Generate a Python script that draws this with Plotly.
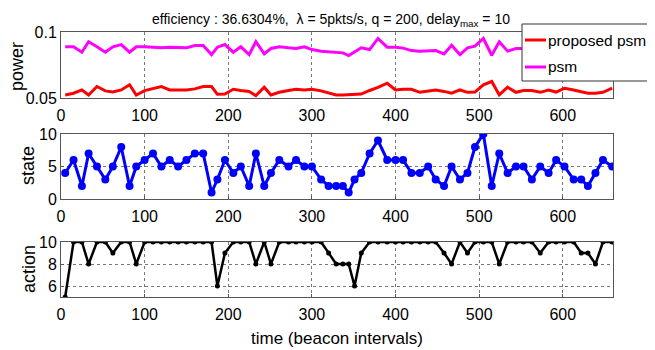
import plotly.graph_objects as go
from plotly.subplots import make_subplots

# ---- data ----
time = [5, 15, 25, 33, 43, 53, 62, 72, 82, 90,
        100, 110, 120, 130, 140, 150, 160, 170, 180,
        187, 196, 206, 215, 225, 233, 243, 251, 261, 272,
        281, 291, 300, 311, 320, 329, 337, 344, 351, 359,
        369, 379, 390, 400, 409, 419, 429, 439, 448, 458,
        467, 477, 486, 495, 505, 515, 524, 534, 544, 553,
        563, 573, 583, 592, 602, 613, 622, 630, 639, 648,
        659]

power_proposed = [0.0523, 0.0536, 0.0561, 0.0523, 0.0587, 0.0554, 0.0545, 0.0561, 0.0600, 0.0523,
                  0.0556, 0.0569, 0.0587, 0.0561, 0.0563, 0.0561, 0.0569, 0.0587, 0.0587,
                  0.0528, 0.0530, 0.0566, 0.0557, 0.0550, 0.0518, 0.0582, 0.0523, 0.0543, 0.0557,
                  0.0566, 0.0561, 0.0566, 0.0554, 0.0536, 0.0523, 0.0523, 0.0526, 0.0530, 0.0530,
                  0.0557, 0.0580, 0.0612, 0.0561, 0.0566, 0.0566, 0.0543, 0.0550, 0.0561, 0.0550,
                  0.0536, 0.0561, 0.0543, 0.0545, 0.0600, 0.0625, 0.0523, 0.0582, 0.0543, 0.0557,
                  0.0557, 0.0543, 0.0561, 0.0545, 0.0574, 0.0561, 0.0550, 0.0536, 0.0536, 0.0543,
                  0.0574]

power_psm = [0.0888, 0.0888, 0.0847, 0.0926, 0.0888, 0.0847, 0.0888, 0.0905, 0.0847, 0.0888,
             0.0888, 0.0885, 0.0880, 0.0885, 0.0885, 0.0880, 0.0898, 0.0898, 0.0829,
             0.0885, 0.0905, 0.0847, 0.0888, 0.0829, 0.0926, 0.0834, 0.0875, 0.0888, 0.0880,
             0.0875, 0.0888, 0.0867, 0.0855, 0.0850, 0.0842, 0.0842, 0.0821, 0.0850, 0.0880,
             0.0867, 0.0951, 0.0885, 0.0885, 0.0878, 0.0859, 0.0855, 0.0859, 0.0859, 0.0834,
             0.0900, 0.0829, 0.0880, 0.0893, 0.0951, 0.0824, 0.0926, 0.0855, 0.0875, 0.0875,
             0.0870, 0.0880, 0.0875, 0.0885, 0.0870, 0.0875, 0.0880, 0.0870, 0.0875, 0.0880,
             0.0875]

state = [4, 6, 2, 7, 5, 3, 5, 8, 2, 5,
         6, 7, 5, 6, 5, 6, 7, 7, 1,
         3, 6, 4, 5, 2, 7, 2, 4, 6, 5,
         6, 5, 5, 3, 2, 2, 2, 1, 3, 4,
         7, 9, 6, 6, 6, 4, 4, 5, 3, 2,
         5, 3, 4, 8, 10, 2, 7, 4, 5, 5,
         3, 5, 4, 6, 5, 3, 3, 2, 4, 6,
         5]

action = [5, 10, 10, 8, 10, 10, 9, 10, 10, 8,
          10, 10, 10, 10, 10, 10, 10, 10, 10,
          6, 9, 10, 10, 10, 8, 10, 8, 10, 10,
          10, 10, 10, 10, 9, 8, 8, 8, 6, 9,
          10, 10, 10, 10, 10, 10, 10, 10, 10, 9,
          8, 10, 9, 10, 10, 10, 8, 10, 10, 10,
          10, 9, 10, 10, 10, 10, 9, 9, 8, 10,
          10]

x_ticks = [0, 100, 200, 300, 400, 500, 600]
series_names = ["proposed psm", "psm"]
series_colors = ["#ff0000", "#ff00ff"]
y_titles = ["power", "state", "action"]
title_text = "efficiency : 36.6304%,  \u03bb = 5pkts/s, q = 200, delay<sub>max</sub> = 10"

FONT = "Liberation Sans, Arial, sans-serif"

# page body has an 8px margin: lay out in image pixels, then subtract the offset
OFF = 8
W, H = 655 - OFF, 350 - OFF
L, T, R, B = 61 - OFF, 32 - OFF, 613 - OFF, 297 - OFF   # plot area in figure pixels
PW, PH = R - L, B - T


def px_x(p):
    """image pixel x -> paper fraction"""
    return (p - OFF - L) / PW


def px_y(p):
    """image pixel y -> paper fraction"""
    return (B - (p - OFF)) / PH


fig = make_subplots(rows=3, cols=1)

fig.add_trace(go.Scatter(x=time, y=power_proposed, mode="lines", name=series_names[0],
                         line=dict(color=series_colors[0], width=3)), row=1, col=1)
fig.add_trace(go.Scatter(x=time, y=power_psm, mode="lines", name=series_names[1],
                         line=dict(color=series_colors[1], width=3)), row=1, col=1)
fig.add_trace(go.Scatter(x=time, y=state, mode="lines+markers",
                         line=dict(color="#0000ff", width=3),
                         marker=dict(color="#0000ff", size=8)), row=2, col=1)
fig.add_trace(go.Scatter(x=time, y=action, mode="lines+markers",
                         line=dict(color="#000000", width=2.5),
                         marker=dict(color="#000000", size=5)), row=3, col=1)

axis_common = dict(showline=True, mirror=True, linecolor="#555555", linewidth=1,
                   showgrid=True, gridcolor="#777777", griddash="dot", gridwidth=1,
                   zeroline=False, ticks="inside", ticklen=3, tickcolor="#555555",
                   automargin=False,
                   tickfont=dict(size=16, color="black", family=FONT))

for r in (1, 2, 3):
    fig.update_xaxes(range=[0, 660], tickvals=x_ticks, ticklabelstandoff=3,
                     **axis_common, row=r, col=1)

fig.update_yaxes(range=[0.05, 0.1], tickvals=[0.05, 0.1], ticktext=["0.05", "0.1"],
                 **axis_common, row=1, col=1)
fig.update_yaxes(range=[0, 10], tickvals=[0, 5, 10], **axis_common, row=2, col=1)
fig.update_yaxes(range=[5, 10], tickvals=[6, 8, 10], **axis_common, row=3, col=1)
fig.update_xaxes(title=dict(text="time (beacon intervals)",
                            font=dict(size=17, family=FONT, color="black"), standoff=9),
                 row=3, col=1)

# y-axis titles placed as rotated annotations (x centre, y centre in image pixels)
annotations = []
for txt, cx, cy in zip(y_titles, [17, 28, 29], [67, 166, 269]):
    annotations.append(dict(text=txt, xref="paper", yref="paper", x=px_x(cx), y=px_y(cy),
                            xanchor="center", yanchor="middle", textangle=-90,
                            showarrow=False, font=dict(size=18, family=FONT, color="black")))

# legend box drawn in paper coordinates
shapes = [dict(type="rect", xref="paper", yref="paper",
               x0=px_x(522), x1=px_x(665), y0=px_y(81), y1=px_y(24),
               fillcolor="white", line=dict(color="#333333", width=1), layer="above")]
for i, (nm, col) in enumerate(zip(series_names, series_colors)):
    yy = px_y(40 + 27 * i)
    shapes.append(dict(type="line", xref="paper", yref="paper",
                       x0=px_x(525), x1=px_x(546), y0=yy, y1=yy,
                       line=dict(color=col, width=3), layer="above"))
    annotations.append(dict(text=nm, xref="paper", yref="paper", x=px_x(546), y=yy,
                            xanchor="left", yanchor="middle", showarrow=False,
                            font=dict(size=15.5, family=FONT, color="black")))

fig.update_layout(
    width=W, height=H,
    margin=dict(l=L, r=W - R, t=T, b=H - B, pad=0, autoexpand=False),
    paper_bgcolor="white", plot_bgcolor="white",
    font=dict(family=FONT, color="black"),
    showlegend=False,
    title=dict(text=title_text, x=(152 - OFF) / W, xanchor="left",
               y=1 - 11.5 / H, yanchor="middle",
               font=dict(size=14, family=FONT, color="black")),
    xaxis=dict(domain=[0, 1]), xaxis2=dict(domain=[0, 1]), xaxis3=dict(domain=[0, 1]),
    yaxis=dict(domain=[px_y(98), 1.0]),
    yaxis2=dict(domain=[px_y(199), px_y(134)]),
    yaxis3=dict(domain=[0.0, px_y(242)]),
    shapes=shapes,
    annotations=annotations,
)

fig.write_html("out.html")
